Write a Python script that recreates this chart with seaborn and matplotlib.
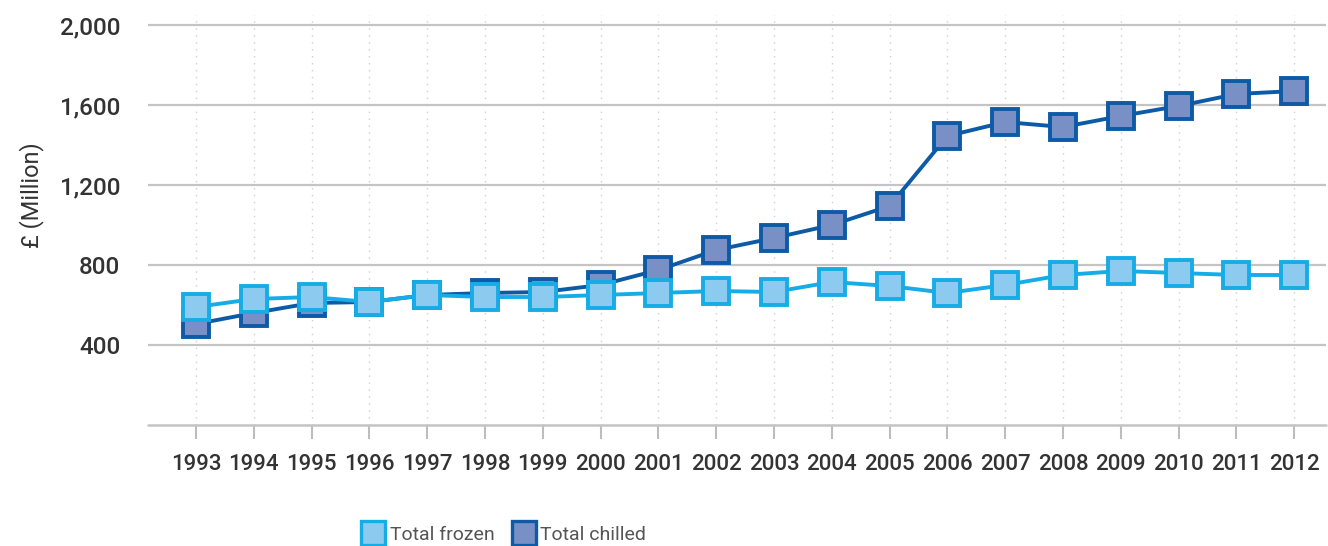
import matplotlib
matplotlib.use("Agg")
import matplotlib.pyplot as plt
from matplotlib.lines import Line2D
import numpy as np
import pandas as pd
import seaborn as sns

# Annual retail value, £ million
years = list(range(1993, 2013))
total_frozen = [590, 630, 640, 615, 650, 640, 640, 650, 660, 670,
                665, 715, 695, 660, 700, 750, 770, 760, 750, 750]
total_chilled = [505, 560, 610, 615, 650, 660, 665, 700, 775, 875,
                 935, 1000, 1095, 1445, 1515, 1490, 1545, 1595, 1655, 1670]
series_names = ["Total frozen", "Total chilled"]
y_ticks = [400, 800, 1200, 1600, 2000]

df = pd.DataFrame({
    "Year": years * 2,
    "Value": total_frozen + total_chilled,
    "Series": [series_names[0]] * len(years) + [series_names[1]] * len(years),
})

sns.set_theme(style="white")
plt.rcParams["font.family"] = ["Roboto", "DejaVu Sans"]
plt.rcParams["font.weight"] = 500

styles = {
    "Total frozen": dict(line="#16ace6", face="#8ccbef"),
    "Total chilled": dict(line="#0d5aa6", face="#7890c6"),
}

fig = plt.figure(figsize=(13.28, 5.46), dpi=100)
ax = fig.add_axes([0.1114, 0.2216, 0.8871, 0.7509])

# chilled first so frozen markers sit on top
for name in ["Total chilled", "Total frozen"]:
    st = styles[name]
    sns.lineplot(data=df[df["Series"] == name], x="Year", y="Value", ax=ax,
                 color=st["line"], linewidth=2.8, marker="s", markersize=19,
                 markerfacecolor=st["face"], markeredgecolor=st["line"],
                 markeredgewidth=2.8, legend=False, zorder=3)

ax.set_xlim(1992.17, 2012.55)
ax.set_ylim(0, 2050)

# horizontal grid
for v in y_ticks:
    ax.axhline(v, color="#c4c4c4", lw=1.6, zorder=1)
ax.axhline(0, color="#c4c4c4", lw=1.8, zorder=1, clip_on=False)
# vertical dotted grid
for yr in years:
    ax.axvline(yr, color="#cfcfcf", lw=1.0, ls=(0, (1, 4)), zorder=0)

for s in ax.spines.values():
    s.set_visible(False)

ax.set_yticks(y_ticks)
ax.set_yticklabels([f"{v:,}" for v in y_ticks])
ax.set_xticks(years)
ax.set_xticklabels([str(y) for y in years])
ax.tick_params(axis="y", length=0, pad=20, labelsize=17.5, labelcolor="#333333")
ax.tick_params(axis="x", length=10, width=1.5, color="#bdbdbd", direction="out",
               pad=11, labelsize=16, labelcolor="#333333")
ax.tick_params(axis="x", bottom=True)
ax.set_xlabel("")
ax.set_ylabel("£ (Million)", fontsize=17, color="#333333", labelpad=10)
ax.yaxis.set_label_coords(-0.088, 0.56)
ax.grid(False)

handles = [
    Line2D([], [], ls="none", marker="s", markersize=17,
           markerfacecolor=styles[n]["face"], markeredgecolor=styles[n]["line"],
           markeredgewidth=2.4)
    for n in series_names
]
fig.legend(handles, series_names, loc="center", bbox_to_anchor=(0.38, 0.02),
           ncol=2, frameon=False, prop={"size": 14, "weight": "normal"},
           handlelength=1.0, handletextpad=0.35, columnspacing=1.0,
           labelcolor="#555555")

fig.savefig("out.png", dpi=100)
